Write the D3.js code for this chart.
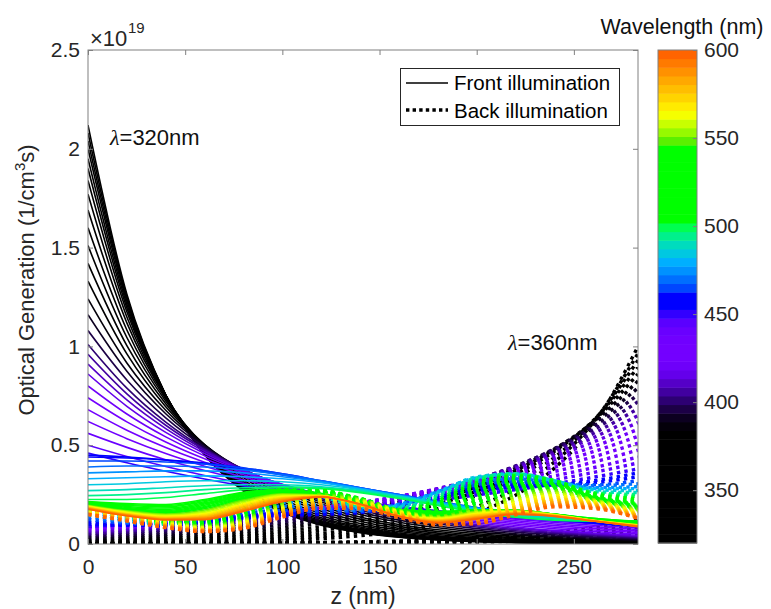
<!DOCTYPE html>
<html>
<head>
<meta charset="utf-8">
<script src="https://cdn.jsdelivr.net/npm/d3@7"></script>
<style>
  html, body { margin: 0; padding: 0; background: #fff; }
  svg { display: block; font-family: "Liberation Sans", Arial, sans-serif; }
</style>
</head>
<body>
<svg id="chart" width="771" height="609"></svg>
<script>
// depth positions (nm) at which each generation profile is sampled
const zGrid = [0, 20, 40, 60, 80, 100, 120, 140, 160, 180, 200, 220, 240, 260, 283];

// illumination wavelengths (nm)
const wavelengths = [320,325,330,335,340,345,350,355,360,365,370,375,380,385,390,395,400,405,410,415,
  420,425,430,435,440,445,450,455,460,465,470,475,480,485,490,495,500,505,510,515,520,525,530,535,540,545,
  550,555,560,565,570,575,580,585,590,595,600];

// optical generation, front illumination (x1e19 1/cm^3 s), one row per wavelength
const frontGen = [
  [2.12,1.264,0.754,0.450,0.268,0.160,0.095,0.057,0.034,0.020,0.012,0.007,0.004,0.003,0.001],
  [2.08,1.252,0.754,0.454,0.273,0.165,0.099,0.060,0.036,0.022,0.013,0.008,0.005,0.003,0.002],
  [2.04,1.241,0.754,0.459,0.279,0.170,0.103,0.063,0.038,0.023,0.014,0.009,0.005,0.003,0.002],
  [2.00,1.228,0.754,0.463,0.284,0.175,0.107,0.066,0.040,0.025,0.015,0.009,0.006,0.004,0.002],
  [1.95,1.212,0.753,0.468,0.291,0.181,0.112,0.070,0.043,0.027,0.017,0.010,0.007,0.004,0.002],
  [1.90,1.195,0.752,0.473,0.298,0.187,0.118,0.074,0.047,0.029,0.019,0.012,0.007,0.005,0.003],
  [1.84,1.175,0.750,0.479,0.306,0.195,0.125,0.080,0.051,0.032,0.021,0.013,0.008,0.005,0.003],
  [1.77,1.149,0.746,0.485,0.315,0.204,0.133,0.086,0.056,0.036,0.024,0.015,0.010,0.007,0.004],
  [1.69,1.119,0.741,0.491,0.325,0.215,0.143,0.094,0.063,0.041,0.027,0.018,0.012,0.008,0.005],
  [1.60,1.083,0.733,0.496,0.336,0.227,0.154,0.104,0.071,0.048,0.032,0.022,0.015,0.010,0.006],
  [1.51,1.045,0.723,0.500,0.346,0.240,0.166,0.115,0.079,0.055,0.038,0.026,0.018,0.013,0.008],
  [1.42,1.004,0.710,0.502,0.355,0.251,0.178,0.126,0.089,0.063,0.045,0.032,0.022,0.016,0.011],
  [1.33,0.962,0.695,0.503,0.363,0.263,0.190,0.137,0.099,0.072,0.052,0.038,0.027,0.020,0.014],
  [1.24,0.916,0.677,0.501,0.370,0.273,0.202,0.149,0.110,0.082,0.060,0.045,0.033,0.024,0.017],
  [1.16,0.874,0.659,0.497,0.374,0.282,0.213,0.160,0.121,0.091,0.069,0.052,0.039,0.029,0.021],
  [1.08,0.830,0.638,0.490,0.377,0.289,0.222,0.171,0.131,0.101,0.078,0.060,0.046,0.035,0.026],
  [1.01,0.789,0.617,0.482,0.377,0.295,0.230,0.180,0.141,0.110,0.086,0.067,0.053,0.041,0.031],
  [0.96,0.760,0.601,0.476,0.376,0.298,0.236,0.186,0.147,0.117,0.092,0.073,0.058,0.046,0.035],
  [0.91,0.729,0.584,0.468,0.375,0.300,0.240,0.193,0.154,0.124,0.099,0.079,0.064,0.051,0.039],
  [0.86,0.697,0.565,0.458,0.372,0.301,0.244,0.198,0.161,0.130,0.106,0.086,0.069,0.056,0.044],
  [0.80,0.658,0.542,0.446,0.367,0.302,0.248,0.204,0.168,0.138,0.114,0.094,0.077,0.063,0.051],
  [0.74,0.618,0.516,0.431,0.360,0.300,0.251,0.209,0.175,0.146,0.122,0.102,0.085,0.071,0.058],
  [0.68,0.576,0.488,0.414,0.350,0.297,0.251,0.213,0.181,0.153,0.130,0.110,0.093,0.079,0.065],
  [0.62,0.533,0.458,0.394,0.339,0.291,0.250,0.215,0.185,0.159,0.137,0.118,0.101,0.087,0.073],
  [0.56,0.489,0.426,0.372,0.324,0.283,0.247,0.215,0.188,0.164,0.143,0.125,0.109,0.095,0.081],
  [0.50,0.443,0.392,0.347,0.307,0.272,0.241,0.213,0.189,0.167,0.148,0.131,0.116,0.103,0.089],
  [0.46,0.411,0.368,0.329,0.294,0.263,0.235,0.210,0.188,0.168,0.150,0.134,0.120,0.107,0.094],
  [0.45,0.440,0.425,0.405,0.380,0.350,0.315,0.280,0.245,0.210,0.180,0.150,0.125,0.105,0.090],
  [0.44,0.435,0.425,0.410,0.385,0.355,0.320,0.285,0.250,0.215,0.180,0.155,0.130,0.110,0.095],
  [0.42,0.420,0.415,0.405,0.385,0.355,0.320,0.285,0.250,0.215,0.185,0.160,0.135,0.115,0.100],
  [0.39,0.395,0.395,0.390,0.375,0.350,0.320,0.285,0.250,0.215,0.185,0.160,0.140,0.120,0.105],
  [0.36,0.365,0.370,0.370,0.360,0.340,0.315,0.280,0.245,0.210,0.180,0.155,0.135,0.120,0.110],
  [0.33,0.335,0.340,0.345,0.340,0.330,0.310,0.280,0.245,0.210,0.180,0.155,0.135,0.120,0.110],
  [0.30,0.305,0.315,0.320,0.320,0.315,0.300,0.275,0.240,0.205,0.175,0.150,0.135,0.120,0.115],
  [0.27,0.275,0.285,0.295,0.300,0.300,0.290,0.270,0.240,0.205,0.170,0.145,0.130,0.120,0.115],
  [0.245,0.250,0.260,0.275,0.285,0.290,0.285,0.265,0.235,0.200,0.165,0.140,0.125,0.120,0.115],
  [0.225,0.225,0.235,0.255,0.275,0.285,0.280,0.260,0.230,0.195,0.160,0.135,0.120,0.115,0.115],
  [0.215,0.205,0.200,0.225,0.262,0.275,0.255,0.210,0.175,0.165,0.170,0.165,0.150,0.130,0.115],
  [0.212,0.200,0.195,0.220,0.258,0.274,0.255,0.208,0.170,0.162,0.170,0.166,0.150,0.130,0.113],
  [0.210,0.195,0.188,0.214,0.254,0.272,0.254,0.206,0.166,0.158,0.170,0.167,0.150,0.128,0.111],
  [0.210,0.190,0.182,0.208,0.250,0.270,0.253,0.204,0.162,0.155,0.170,0.168,0.150,0.127,0.110],
  [0.208,0.185,0.176,0.202,0.246,0.268,0.252,0.202,0.158,0.152,0.170,0.169,0.150,0.126,0.108],
  [0.205,0.180,0.170,0.196,0.242,0.266,0.251,0.200,0.155,0.149,0.170,0.170,0.150,0.125,0.106],
  [0.202,0.177,0.165,0.190,0.237,0.263,0.250,0.199,0.152,0.146,0.169,0.170,0.150,0.124,0.104],
  [0.200,0.174,0.160,0.184,0.232,0.260,0.249,0.198,0.150,0.143,0.168,0.170,0.150,0.123,0.102],
  [0.198,0.171,0.156,0.178,0.227,0.257,0.248,0.197,0.148,0.140,0.167,0.170,0.150,0.122,0.100],
  [0.196,0.168,0.152,0.172,0.222,0.254,0.247,0.196,0.146,0.137,0.166,0.170,0.150,0.121,0.098],
  [0.194,0.165,0.148,0.166,0.216,0.250,0.246,0.196,0.145,0.134,0.162,0.168,0.149,0.120,0.097],
  [0.192,0.162,0.144,0.160,0.210,0.246,0.245,0.196,0.144,0.131,0.158,0.166,0.148,0.120,0.096],
  [0.190,0.159,0.140,0.154,0.204,0.242,0.244,0.196,0.143,0.128,0.154,0.164,0.147,0.119,0.095],
  [0.188,0.156,0.137,0.149,0.198,0.238,0.243,0.196,0.142,0.125,0.150,0.162,0.146,0.119,0.094],
  [0.186,0.153,0.134,0.144,0.192,0.234,0.242,0.197,0.141,0.122,0.146,0.160,0.145,0.118,0.093],
  [0.184,0.150,0.131,0.139,0.186,0.230,0.241,0.198,0.140,0.119,0.142,0.158,0.144,0.118,0.092],
  [0.182,0.148,0.128,0.135,0.180,0.226,0.240,0.199,0.140,0.116,0.138,0.156,0.143,0.117,0.091],
  [0.180,0.146,0.126,0.131,0.175,0.222,0.239,0.200,0.140,0.113,0.134,0.154,0.142,0.117,0.090],
  [0.178,0.144,0.124,0.127,0.170,0.218,0.238,0.201,0.140,0.110,0.130,0.152,0.141,0.116,0.089],
  [0.176,0.142,0.122,0.123,0.165,0.214,0.237,0.202,0.140,0.107,0.126,0.150,0.140,0.116,0.088]
];

// optical generation, back illumination (x1e19 1/cm^3 s), one row per wavelength
const backGen = [
  [0.000,0.001,0.001,0.001,0.001,0.002,0.003,0.004,0.005,0.007,0.010,0.014,0.020,0.027,0.040],
  [0.000,0.001,0.001,0.001,0.002,0.002,0.003,0.005,0.006,0.009,0.013,0.018,0.024,0.034,0.050],
  [0.001,0.001,0.001,0.001,0.002,0.003,0.004,0.006,0.008,0.011,0.015,0.021,0.029,0.041,0.060],
  [0.001,0.001,0.001,0.002,0.002,0.003,0.005,0.006,0.009,0.013,0.018,0.025,0.034,0.048,0.070],
  [0.001,0.001,0.001,0.002,0.003,0.004,0.005,0.007,0.010,0.014,0.020,0.028,0.039,0.055,0.080],
  [0.001,0.001,0.002,0.002,0.003,0.004,0.006,0.008,0.012,0.016,0.023,0.032,0.044,0.061,0.090],
  [0.001,0.001,0.002,0.002,0.003,0.005,0.007,0.009,0.013,0.018,0.025,0.035,0.049,0.068,0.100],
  [0.001,0.002,0.002,0.003,0.004,0.006,0.008,0.011,0.015,0.022,0.030,0.042,0.059,0.082,0.120],
  [0.002,0.003,0.005,0.007,0.011,0.017,0.027,0.042,0.065,0.101,0.158,0.247,0.384,0.600,1.000],
  [0.004,0.006,0.008,0.012,0.018,0.027,0.039,0.059,0.087,0.128,0.189,0.281,0.415,0.615,0.965],
  [0.007,0.009,0.013,0.019,0.026,0.038,0.053,0.076,0.108,0.153,0.217,0.308,0.438,0.621,0.930],
  [0.011,0.015,0.020,0.028,0.038,0.051,0.070,0.096,0.131,0.179,0.245,0.335,0.457,0.625,0.895],
  [0.016,0.021,0.028,0.037,0.049,0.065,0.087,0.115,0.152,0.202,0.267,0.354,0.469,0.622,0.860],
  [0.023,0.030,0.038,0.049,0.063,0.081,0.105,0.135,0.174,0.224,0.288,0.372,0.479,0.617,0.825],
  [0.031,0.039,0.048,0.061,0.077,0.097,0.121,0.153,0.192,0.242,0.304,0.383,0.482,0.607,0.790],
  [0.040,0.049,0.060,0.074,0.091,0.112,0.138,0.170,0.210,0.258,0.318,0.392,0.482,0.594,0.755],
  [0.049,0.059,0.071,0.086,0.104,0.126,0.153,0.185,0.223,0.270,0.327,0.395,0.478,0.578,0.720],
  [0.056,0.067,0.080,0.095,0.114,0.136,0.162,0.193,0.231,0.275,0.329,0.392,0.468,0.559,0.685],
  [0.064,0.075,0.089,0.105,0.123,0.145,0.171,0.201,0.237,0.280,0.329,0.388,0.457,0.538,0.650],
  [0.071,0.083,0.096,0.112,0.131,0.152,0.177,0.206,0.241,0.280,0.326,0.380,0.443,0.516,0.615],
  [0.077,0.089,0.102,0.118,0.136,0.157,0.181,0.209,0.241,0.278,0.321,0.370,0.427,0.492,0.580],
  [0.082,0.093,0.107,0.122,0.140,0.160,0.183,0.209,0.239,0.273,0.312,0.357,0.408,0.467,0.545],
  [0.085,0.097,0.110,0.124,0.141,0.160,0.182,0.206,0.234,0.266,0.302,0.342,0.389,0.441,0.510],
  [0.087,0.098,0.111,0.125,0.141,0.159,0.179,0.202,0.227,0.256,0.289,0.326,0.367,0.414,0.475],
  [0.088,0.099,0.111,0.124,0.139,0.156,0.174,0.195,0.219,0.245,0.275,0.308,0.345,0.386,0.440],
  [0.089,0.099,0.110,0.123,0.137,0.153,0.170,0.189,0.211,0.235,0.262,0.292,0.325,0.362,0.410],
  [0.089,0.099,0.109,0.121,0.134,0.149,0.165,0.183,0.202,0.224,0.248,0.275,0.305,0.338,0.380],
  [0.100,0.095,0.095,0.110,0.130,0.145,0.150,0.160,0.190,0.235,0.270,0.290,0.300,0.320,0.360],
  [0.110,0.100,0.098,0.115,0.140,0.155,0.155,0.160,0.195,0.245,0.285,0.300,0.300,0.310,0.340],
  [0.125,0.105,0.100,0.125,0.155,0.170,0.165,0.165,0.200,0.255,0.300,0.315,0.305,0.300,0.320],
  [0.140,0.110,0.100,0.130,0.170,0.190,0.180,0.170,0.200,0.260,0.315,0.330,0.310,0.295,0.305],
  [0.155,0.115,0.100,0.140,0.190,0.210,0.195,0.175,0.200,0.265,0.325,0.340,0.315,0.285,0.290],
  [0.170,0.120,0.100,0.145,0.205,0.230,0.210,0.180,0.195,0.265,0.335,0.350,0.320,0.280,0.280],
  [0.180,0.130,0.100,0.145,0.215,0.245,0.225,0.185,0.190,0.260,0.340,0.355,0.320,0.275,0.270],
  [0.190,0.140,0.100,0.140,0.220,0.260,0.240,0.190,0.185,0.250,0.335,0.355,0.320,0.265,0.260],
  [0.200,0.150,0.105,0.135,0.220,0.270,0.250,0.195,0.180,0.240,0.330,0.355,0.320,0.260,0.250],
  [0.205,0.160,0.110,0.130,0.215,0.275,0.260,0.200,0.175,0.230,0.320,0.350,0.320,0.260,0.240],
  [0.205,0.165,0.115,0.125,0.205,0.275,0.265,0.205,0.170,0.220,0.310,0.345,0.320,0.255,0.230],
  [0.205,0.170,0.115,0.120,0.195,0.270,0.270,0.210,0.165,0.210,0.300,0.335,0.315,0.250,0.220],
  [0.200,0.175,0.115,0.115,0.185,0.265,0.270,0.215,0.160,0.200,0.290,0.325,0.310,0.245,0.210],
  [0.200,0.175,0.120,0.110,0.175,0.260,0.270,0.220,0.160,0.190,0.280,0.315,0.305,0.240,0.205],
  [0.195,0.175,0.120,0.105,0.165,0.250,0.270,0.225,0.160,0.180,0.265,0.305,0.300,0.240,0.200],
  [0.190,0.175,0.125,0.100,0.155,0.240,0.265,0.230,0.165,0.170,0.250,0.295,0.295,0.235,0.195],
  [0.185,0.170,0.125,0.100,0.145,0.230,0.260,0.230,0.165,0.160,0.235,0.285,0.290,0.235,0.190],
  [0.180,0.170,0.125,0.095,0.135,0.220,0.255,0.230,0.170,0.150,0.220,0.275,0.285,0.230,0.185],
  [0.175,0.165,0.125,0.090,0.130,0.210,0.250,0.230,0.170,0.145,0.205,0.265,0.280,0.230,0.180],
  [0.170,0.160,0.120,0.090,0.125,0.205,0.250,0.225,0.170,0.140,0.185,0.250,0.270,0.225,0.175],
  [0.165,0.155,0.115,0.085,0.118,0.195,0.240,0.222,0.168,0.135,0.172,0.235,0.262,0.222,0.170],
  [0.160,0.150,0.110,0.082,0.112,0.187,0.232,0.218,0.165,0.130,0.160,0.222,0.254,0.218,0.165],
  [0.160,0.145,0.105,0.079,0.106,0.180,0.225,0.213,0.162,0.125,0.150,0.210,0.245,0.214,0.160],
  [0.155,0.140,0.100,0.076,0.100,0.173,0.218,0.208,0.158,0.120,0.140,0.198,0.236,0.210,0.155],
  [0.155,0.135,0.098,0.073,0.096,0.166,0.211,0.203,0.154,0.115,0.132,0.187,0.227,0.205,0.150],
  [0.150,0.130,0.095,0.071,0.092,0.160,0.205,0.198,0.150,0.111,0.125,0.177,0.218,0.200,0.145],
  [0.150,0.125,0.092,0.069,0.088,0.154,0.199,0.193,0.146,0.107,0.118,0.168,0.210,0.195,0.140],
  [0.150,0.122,0.089,0.067,0.085,0.148,0.193,0.188,0.142,0.103,0.112,0.160,0.202,0.190,0.135],
  [0.150,0.119,0.086,0.065,0.082,0.142,0.187,0.183,0.138,0.100,0.107,0.153,0.195,0.185,0.132],
  [0.150,0.116,0.083,0.063,0.079,0.136,0.181,0.178,0.134,0.097,0.103,0.147,0.188,0.180,0.130]
];

// spectral colour assigned to each wavelength (same order as wavelengths)
const lineColors = [
  "#000000","#000000","#000000","#000000","#000000","#000000","#000000","#000000","#000000","#000000",
  "#000000","#000000","#000000","rgb(4,0,10)","rgb(12,0,32)","rgb(28,0,70)","rgb(45,0,115)","rgb(65,0,160)",
  "rgb(85,0,200)","rgb(100,0,235)","rgb(110,0,250)","rgb(115,0,255)","rgb(115,0,255)","rgb(112,0,255)",
  "rgb(105,0,255)","rgb(90,0,255)","rgb(50,0,255)","rgb(0,0,255)","rgb(0,0,255)","rgb(0,70,255)",
  "rgb(0,110,255)","rgb(0,145,255)","rgb(0,175,255)","rgb(0,200,225)","rgb(0,220,190)","rgb(0,240,140)",
  "rgb(0,255,80)","rgb(0,255,0)","rgb(0,255,0)","rgb(0,255,0)","rgb(0,255,0)","rgb(0,255,0)","rgb(0,255,0)",
  "rgb(0,255,0)","rgb(0,255,0)","rgb(0,255,0)","rgb(90,240,0)","rgb(150,250,0)","rgb(200,255,0)",
  "rgb(245,255,0)","rgb(255,235,0)","rgb(255,212,0)","rgb(255,190,0)","rgb(255,168,0)","rgb(255,145,0)",
  "rgb(255,122,0)","rgb(255,100,0)"
];

const xTicks = [0, 50, 100, 150, 200, 250];
const yTicks = [0, 0.5, 1, 1.5, 2, 2.5];
const cbarTicks = [350, 400, 450, 500, 550, 600];

const svg = d3.select("#chart");
const W = 771, H = 609;
svg.append("rect").attr("width", W).attr("height", H).attr("fill", "#fff");

const plot = { left: 88, right: 638, top: 50, bottom: 544 };
const x = d3.scaleLinear().domain([0, 283]).range([plot.left, plot.right]);
const y = d3.scaleLinear().domain([0, 2.5]).range([plot.bottom, plot.top]);

const axisColor = "#808080";
const textColor = "#262626";
const fontFam = "'Liberation Sans', Arial, sans-serif";

svg.append("defs").append("clipPath").attr("id", "clip")
  .append("rect").attr("x", plot.left).attr("y", plot.top)
  .attr("width", plot.right - plot.left).attr("height", plot.bottom - plot.top);

const line = d3.line()
  .x((d, i) => x(zGrid[i]))
  .y(d => y(d))
  .curve(d3.curveMonotoneX);

// profiles, drawn wavelength by wavelength: solid = front, dotted = back
const curves = svg.append("g").attr("clip-path", "url(#clip)");
wavelengths.forEach((wl, i) => {
  curves.append("path")
    .attr("d", line(frontGen[i]))
    .attr("fill", "none")
    .attr("stroke", lineColors[i])
    .attr("stroke-width", 1.6);
  curves.append("path")
    .attr("d", line(backGen[i]))
    .attr("fill", "none")
    .attr("stroke", lineColors[i])
    .attr("stroke-width", 3.4)
    .attr("stroke-dasharray", "3.4 4.2");
});

// axes box with inward ticks on all four sides
function styleAxis(g) {
  g.selectAll(".domain").remove();
  g.selectAll(".tick line").attr("stroke", axisColor);
  g.selectAll("text").attr("fill", textColor).style("font-size", "21px").style("font-family", fontFam);
}
svg.append("g").attr("transform", `translate(0,${plot.bottom})`)
  .call(d3.axisBottom(x).tickValues(xTicks).tickSize(-5).tickPadding(15).tickFormat(d3.format("d")))
  .call(styleAxis);
svg.append("g").attr("transform", `translate(0,${plot.top})`)
  .call(d3.axisTop(x).tickValues(xTicks).tickSize(-5).tickFormat(""))
  .call(styleAxis);
svg.append("g").attr("transform", `translate(${plot.left},0)`)
  .call(d3.axisLeft(y).tickValues(yTicks).tickSize(-5).tickPadding(8).tickFormat(d => String(d)))
  .call(styleAxis);
svg.append("g").attr("transform", `translate(${plot.right},0)`)
  .call(d3.axisRight(y).tickValues(yTicks).tickSize(-5).tickFormat(""))
  .call(styleAxis);

svg.append("rect")
  .attr("x", plot.left).attr("y", plot.top)
  .attr("width", plot.right - plot.left).attr("height", plot.bottom - plot.top)
  .attr("fill", "none").attr("stroke", axisColor).attr("stroke-width", 1);

// exponent label
svg.append("text").attr("x", 90).attr("y", 46).attr("fill", textColor)
  .style("font-size", "22px").style("font-family", fontFam).text("\u00d710");
svg.append("text").attr("x", 128).attr("y", 33).attr("fill", textColor)
  .style("font-size", "15px").style("font-family", fontFam).text("19");

// axis labels
svg.append("text").attr("x", (plot.left + plot.right) / 2).attr("y", 604)
  .attr("text-anchor", "middle").attr("fill", textColor)
  .style("font-size", "23px").style("font-family", fontFam).text("z (nm)");
const ylab = svg.append("text")
  .attr("transform", "translate(34,280) rotate(-90)")
  .attr("text-anchor", "middle").attr("fill", textColor)
  .style("font-size", "22px").style("font-family", fontFam);
ylab.append("tspan").text("Optical Generation (1/cm");
ylab.append("tspan").attr("dy", -9).style("font-size", "15px").text("3");
ylab.append("tspan").attr("dy", 9).text("s)");

// wavelength annotations
function lambdaLabel(px, py, txt) {
  const t = svg.append("text").attr("x", px).attr("y", py).attr("fill", "#111")
    .style("font-size", "22px").style("font-family", fontFam);
  t.append("tspan").style("font-style", "italic").style("font-family", "'Liberation Serif', serif").text("\u03bb");
  t.append("tspan").text(txt);
}
lambdaLabel(110, 145, "=320nm");
lambdaLabel(508, 350, "=360nm");

// legend
const lg = svg.append("g");
lg.append("rect").attr("x", 400.5).attr("y", 68.5).attr("width", 219).attr("height", 57)
  .attr("fill", "#fff").attr("stroke", "#262626").attr("stroke-width", 1);
lg.append("line").attr("x1", 406).attr("x2", 448).attr("y1", 83).attr("y2", 83)
  .attr("stroke", "#000").attr("stroke-width", 1.6);
lg.append("line").attr("x1", 406).attr("x2", 448).attr("y1", 110).attr("y2", 110)
  .attr("stroke", "#000").attr("stroke-width", 3.4).attr("stroke-dasharray", "3.4 3.2");
lg.append("text").attr("x", 454).attr("y", 90).attr("fill", "#000")
  .style("font-size", "20.5px").style("font-family", fontFam).text("Front illumination");
lg.append("text").attr("x", 454).attr("y", 118).attr("fill", "#000")
  .style("font-size", "20.5px").style("font-family", fontFam).text("Back illumination");

// colour bar
const cb = { left: 658, right: 697, top: 50, bottom: 543 };
const cy = d3.scaleLinear().domain([320, 600]).range([cb.bottom, cb.top]);
const band = (600 - 320) / wavelengths.length;
svg.append("g").selectAll("rect").data(wavelengths).join("rect")
  .attr("x", cb.left).attr("width", cb.right - cb.left)
  .attr("y", (d, i) => cy(320 + (i + 1) * band))
  .attr("height", (d, i) => cy(320 + i * band) - cy(320 + (i + 1) * band) + 0.5)
  .attr("fill", (d, i) => lineColors[i]);
svg.append("rect").attr("x", cb.left).attr("y", cb.top)
  .attr("width", cb.right - cb.left).attr("height", cb.bottom - cb.top)
  .attr("fill", "none").attr("stroke", axisColor).attr("stroke-width", 1);
svg.append("g").attr("transform", `translate(${cb.right},0)`)
  .call(d3.axisRight(cy).tickValues(cbarTicks).tickSize(-4).tickPadding(7).tickFormat(d3.format("d")))
  .call(styleAxis);
svg.append("text").attr("x", 682).attr("y", 34).attr("text-anchor", "middle")
  .attr("fill", "#111").style("font-size", "21.5px").style("font-family", fontFam).text("Wavelength (nm)");
</script>
</body>
</html>
